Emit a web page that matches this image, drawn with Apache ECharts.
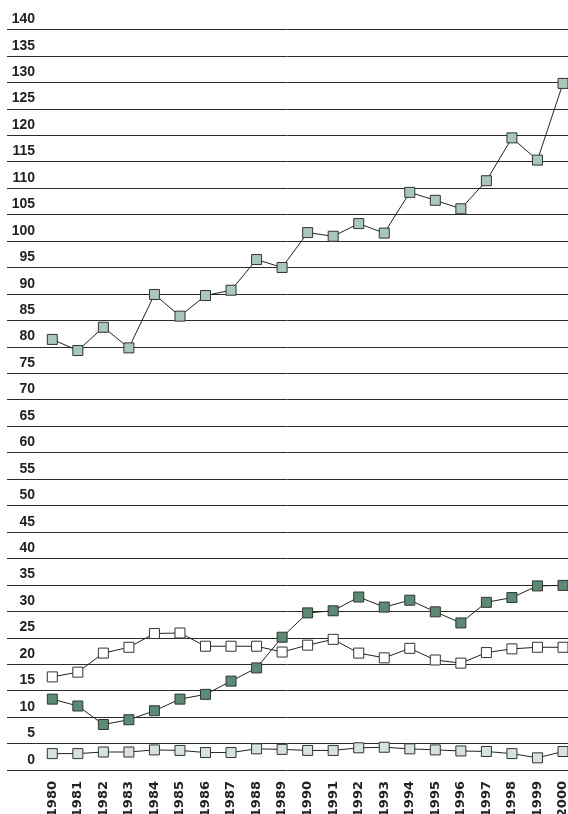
<!DOCTYPE html>
<html>
<head>
<meta charset="utf-8">
<script src="https://cdn.jsdelivr.net/npm/echarts@6/dist/echarts.min.js"></script>
<style>
html,body{margin:0;padding:0;background:#fff;}
#c{width:568px;height:814px;}
</style>
</head>
<body>
<div id="c"></div>
<script>
var years = ['1980','1981','1982','1983','1984','1985','1986','1987','1988','1989','1990','1991','1992','1993','1994','1995','1996','1997','1998','1999','2000'];
var yTickLabels = ['0','5','10','15','20','25','30','35','40','45','50','55','60','65','70','75','80','85','90','95','100','105','110','115','120','125','130','135','140'];
var seriesTop = [81.4,79.3,83.7,79.8,89.9,85.8,89.7,90.7,96.5,95.0,101.6,100.9,103.3,101.5,109.2,107.7,106.1,111.4,119.5,115.3,129.8];
var seriesDark = [13.4,12.1,8.6,9.5,11.2,13.4,14.3,16.8,19.3,25.1,29.7,30.1,32.7,30.8,32.1,29.9,27.8,31.7,32.6,34.8,34.9];
var seriesWhite = [17.6,18.5,22.1,23.2,25.8,25.9,23.4,23.4,23.4,22.3,23.6,24.7,22.1,21.2,23.0,20.8,20.2,22.2,22.9,23.2,23.2];
var seriesLight = [3.1,3.1,3.4,3.4,3.8,3.7,3.3,3.3,4.0,3.9,3.7,3.7,4.2,4.3,4.0,3.8,3.6,3.5,3.1,2.3,3.5];

var chart = echarts.init(document.getElementById('c'), null, {renderer:'canvas'});
function mk(name, data, fill){
  return {
    name: name, type: 'line', xAxisIndex: 2, yAxisIndex: 2, data: data,
    symbol: 'rect', symbolSize: 10, clip: false, animation: false,
    lineStyle: {color: '#222', width: 1},
    itemStyle: {color: fill, borderColor: '#333', borderWidth: 1}
  };
}
chart.setOption({
  animation: false,
  backgroundColor: '#fff',
  grid: [
    {left: 7, right: 0, top: 29.4, bottom: 44, containLabel: false, outerBoundsMode: 'none'},
    {left: 36, right: 0, top: 6, bottom: 41, containLabel: false, outerBoundsMode: 'none'},
    {left: 52.3, right: 5, top: 3, bottom: 44, containLabel: false, outerBoundsMode: 'none'}
  ],
  xAxis: [
    {gridIndex: 0, type: 'value', show: false, min: 0, max: 1},
    {gridIndex: 1, type: 'value', show: false, min: 0, max: 1},
    {gridIndex: 2, type: 'category', data: years, boundaryGap: false,
     axisLine: {show: false}, axisTick: {show: false}, splitLine: {show: false},
     axisLabel: {rotate: 90, margin: 11, interval: 0, color: '#222', fontWeight: 'bold',
       fontSize: 13, fontFamily: "'DejaVu Sans', sans-serif"}}
  ],
  yAxis: [
    {gridIndex: 0, type: 'value', min: 0, max: 140, interval: 5,
     axisLine: {show: false}, axisTick: {show: false}, axisLabel: {show: false},
     splitLine: {show: true, lineStyle: {color: '#2a2a2a', width: 1}}},
    {gridIndex: 1, type: 'category', data: yTickLabels, boundaryGap: true,
     axisLine: {show: false}, axisTick: {show: false}, splitLine: {show: false},
     axisLabel: {interval: 0, margin: 1, color: '#222', fontWeight: 'bold', fontSize: 14,
       fontFamily: "'Liberation Sans', Arial, sans-serif"}},
    {gridIndex: 2, type: 'value', min: 0, max: 145, show: false, splitLine: {show: false}}
  ],
  series: [
    mk('Top', seriesTop, '#a9c8b9'),
    mk('White', seriesWhite, '#ffffff'),
    mk('Dark', seriesDark, '#5b8b75'),
    mk('Light', seriesLight, '#d5e3dc')
  ]
});
</script>
</body>
</html>
